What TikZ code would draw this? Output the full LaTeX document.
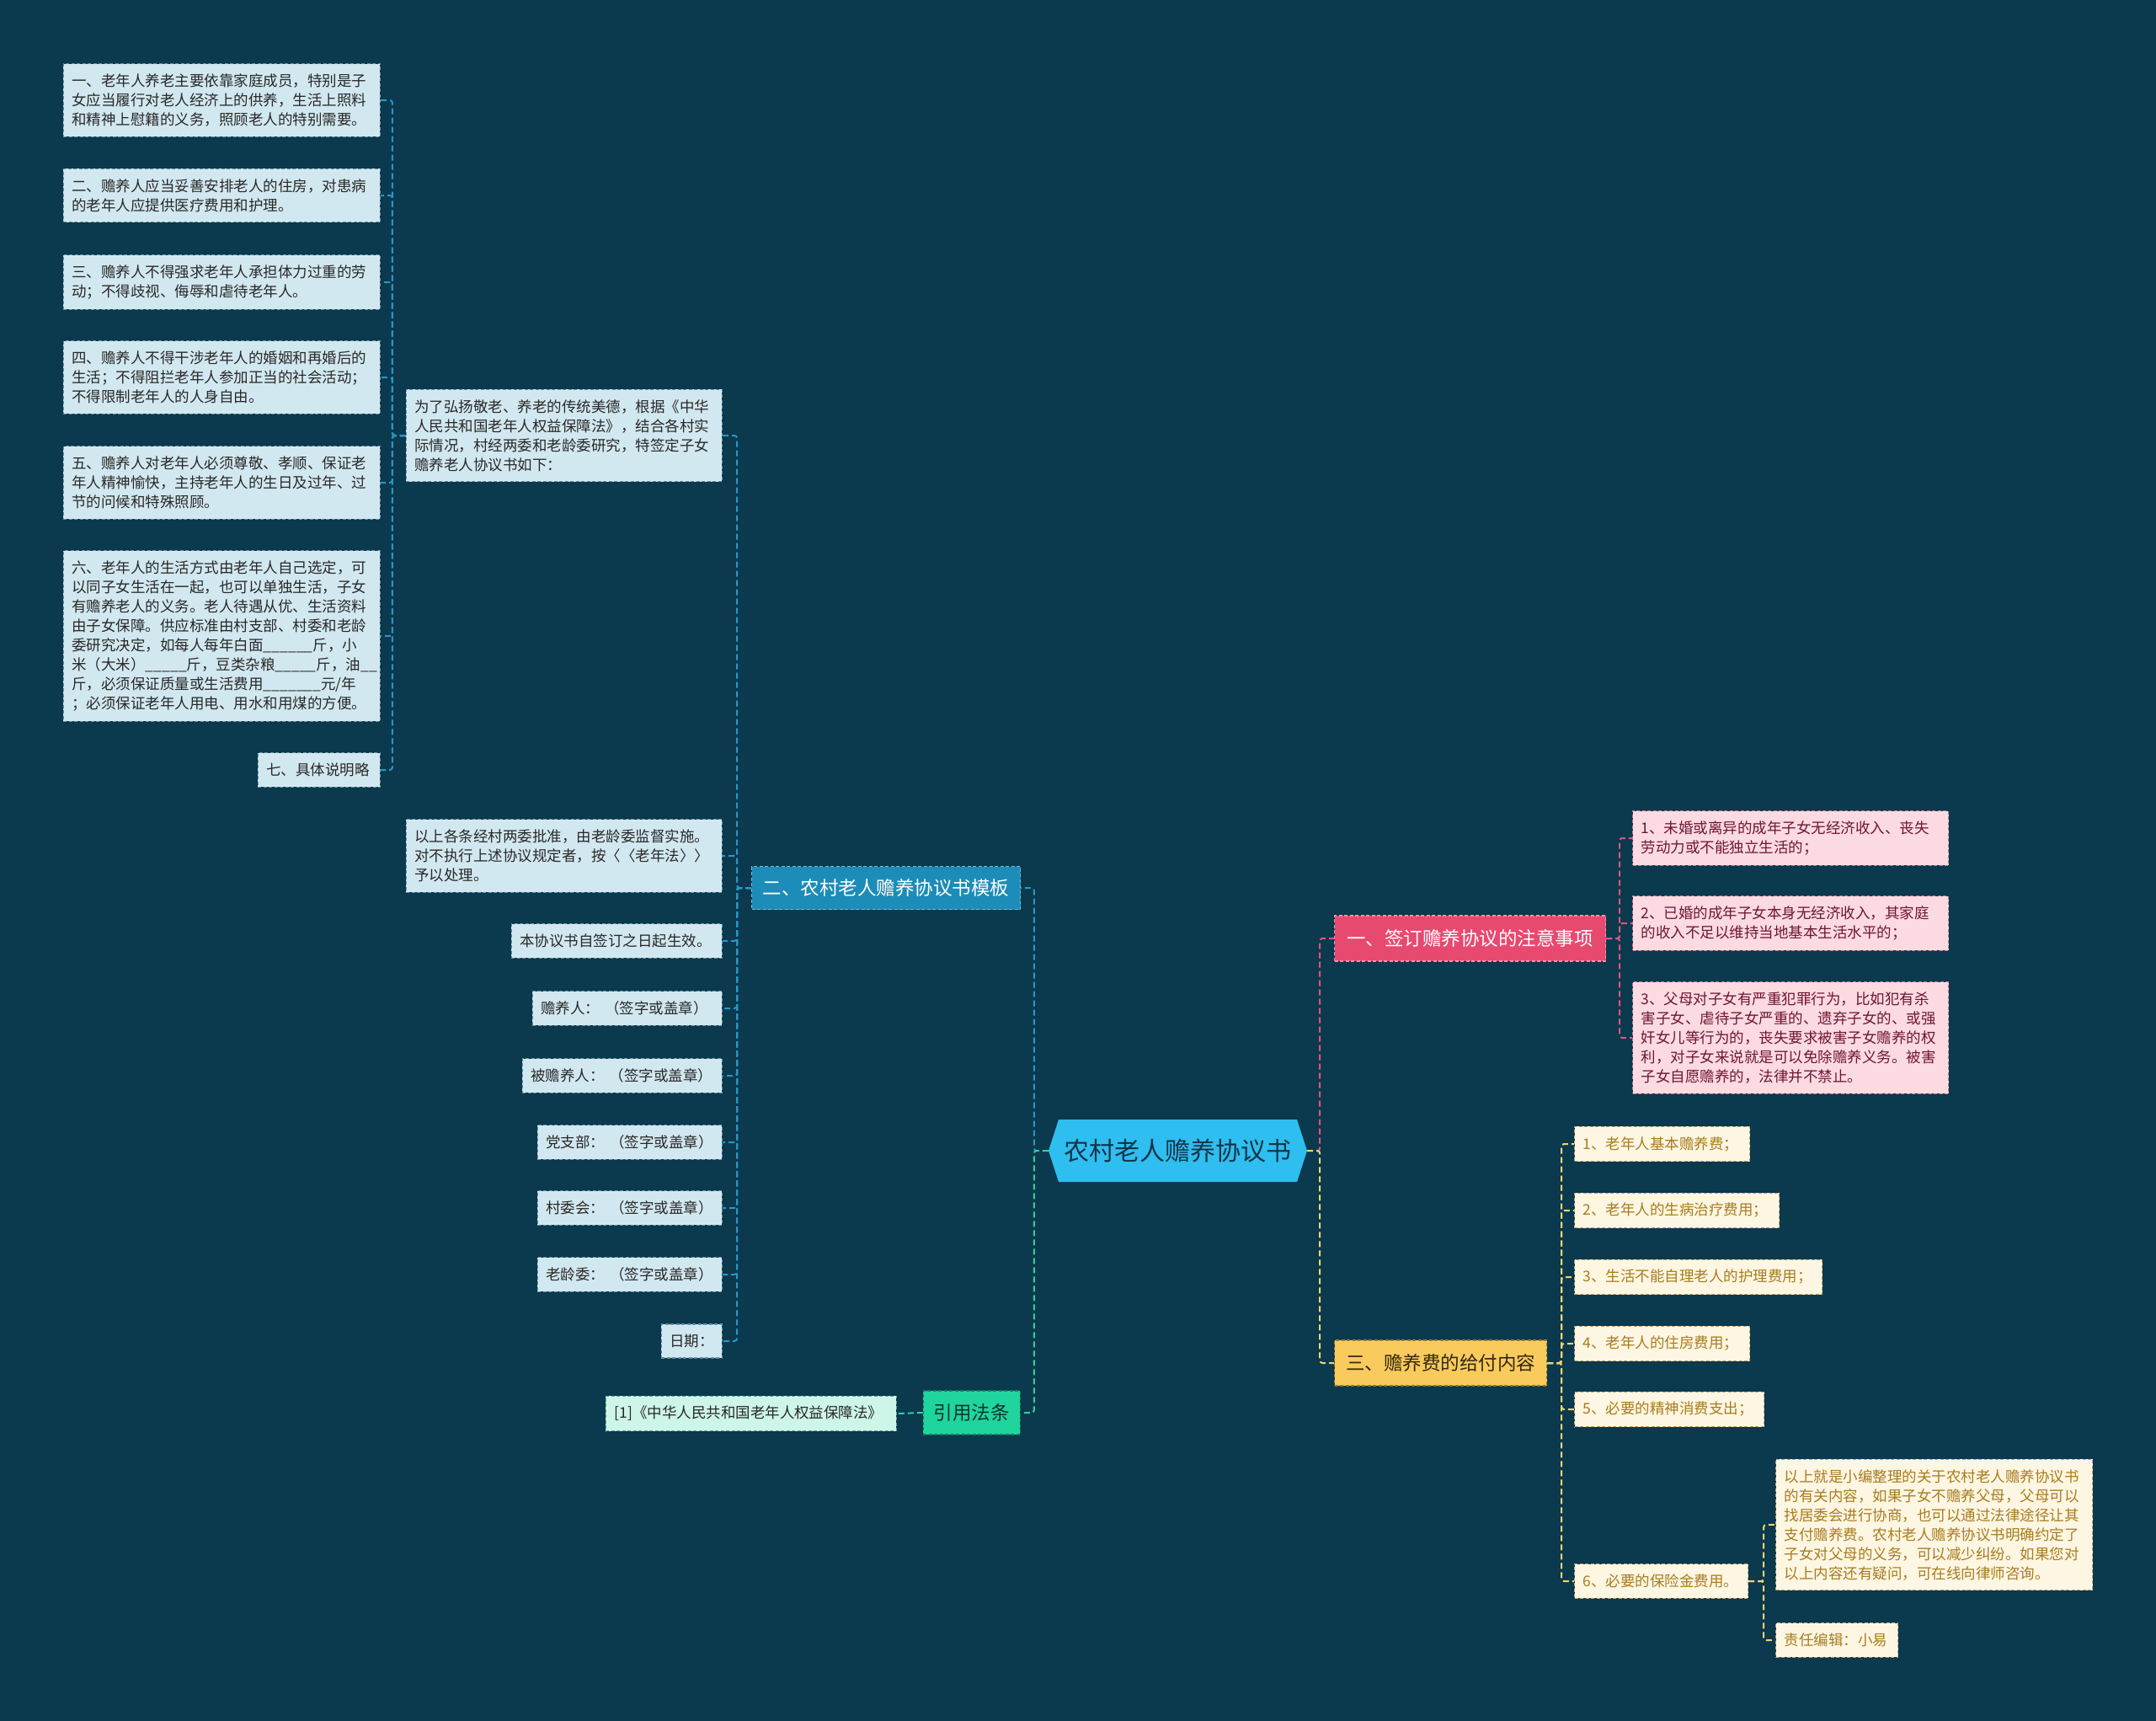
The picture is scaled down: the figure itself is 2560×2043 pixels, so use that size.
\documentclass[tikz,border=0pt]{standalone}
\usepackage{fontspec}
\setmainfont{Noto Sans CJK SC}
\definecolor{bg}{RGB}{11,57,77}
\definecolor{bluen}{RGB}{28,140,185}
\definecolor{bluel}{RGB}{40,150,200}
\definecolor{bluebox}{RGB}{210,232,240}
\definecolor{blueedge}{RGB}{105,145,165}
\definecolor{rootc}{RGB}{46,190,240}
\definecolor{roottext}{RGB}{18,52,72}
\definecolor{pinkn}{RGB}{232,73,111}
\definecolor{pinkl}{RGB}{222,84,124}
\definecolor{pinkbox}{RGB}{252,218,226}
\definecolor{pinkedge}{RGB}{185,125,145}
\definecolor{pinktext}{RGB}{110,22,52}
\definecolor{yelln}{RGB}{249,202,92}
\definecolor{yelll}{RGB}{240,212,112}
\definecolor{yellbox}{RGB}{253,246,226}
\definecolor{yelledge}{RGB}{185,165,115}
\definecolor{yelltext}{RGB}{168,124,30}
\definecolor{greenn}{RGB}{32,212,158}
\definecolor{greenl}{RGB}{42,210,162}
\definecolor{greenbox}{RGB}{205,245,232}
\definecolor{greenedge}{RGB}{105,165,145}
\definecolor{darktext}{RGB}{40,40,40}
\begin{document}
\begin{tikzpicture}[x=1pt,y=-1pt,
  box/.style={inner xsep=10pt, inner ysep=12pt, align=left, font=\fontsize{17.5}{23}\selectfont, line width=1.1pt, dash pattern=on 4pt off 2.5pt},
  bbox/.style={box, fill=bluebox, draw=blueedge, text=darktext},
  pbox/.style={box, fill=pinkbox, draw=pinkedge, text=pinktext},
  ybox/.style={box, fill=yellbox, draw=yelledge, text=yelltext},
  gbox/.style={box, fill=greenbox, draw=greenedge, text=darktext},
  branch/.style={inner xsep=0pt, inner ysep=0pt, font=\fontsize{22.5}{26}\selectfont, line width=1.1pt, dash pattern=on 4pt off 2.5pt},
  conn/.style={line width=2pt, dash pattern=on 7pt off 4pt, rounded corners=3pt},
]
\fill[bg] (0,0) rectangle (2560,2043);
\useasboundingbox (0,0) rectangle (2560,2043);

% root
\fill[rootc] (1257,1329) -- (1540,1329) -- (1552,1366) -- (1540,1403) -- (1257,1403) -- (1245,1366) -- cycle;
\node[minimum width=307pt, minimum height=74pt, inner sep=0pt, font=\fontsize{30}{34}\selectfont, text=roottext] (root) at (1398.5,1366) {农村老人赡养协议书};

% branch nodes
\node[branch, fill=bluen, draw=bluen!60!white, text=white, minimum width=319pt, minimum height=51pt, anchor=west] (n2) at (892,1054) {二、农村老人赡养协议书模板};
\node[branch, fill=greenn, draw=greenn!60!black, text=greenn!25!black, minimum width=115pt, minimum height=52pt, anchor=east] (g0) at (1212,1677) {引用法条};
\node[branch, fill=pinkn, draw=pinkn!60!white, text=white, minimum width=322pt, minimum height=54pt, anchor=west] (n1) at (1584,1114) {一、签订赡养协议的注意事项};
\node[branch, fill=yelln, draw=yelln!60!black, text=yelln!20!black, minimum width=252pt, minimum height=54pt, anchor=west] (n3) at (1584,1618) {三、赡养费的给付内容};

% blue column 2
\node[bbox, text width=355pt, anchor=east] (b1) at (858,517) {为了弘扬敬老、养老的传统美德，根据《中华\\人民共和国老年人权益保障法》，结合各村实\\际情况，村经两委和老龄委研究，特签定子女\\赡养老人协议书如下：};
\node[bbox, text width=355pt, anchor=east] (b2) at (858,1016) {以上各条经村两委批准，由老龄委监督实施。\\对不执行上述协议规定者，按〈〈老年法〉〉\\予以处理。};
\node[bbox, text width=230pt, anchor=east] (b3) at (858,1117) {本协议书自签订之日起生效。};
\node[bbox, text width=205pt, anchor=east] (b4) at (858,1197) {赡养人：\hspace{6pt}（签字或盖章）};
\node[bbox, text width=217pt, anchor=east] (b5) at (858,1277) {被赡养人：\hspace{6pt}（签字或盖章）};
\node[bbox, text width=199pt, anchor=east] (b6) at (858,1356) {党支部：\hspace{6pt}（签字或盖章）};
\node[bbox, text width=199pt, anchor=east] (b7) at (858,1434) {村委会：\hspace{6pt}（签字或盖章）};
\node[bbox, text width=199pt, anchor=east] (b8) at (858,1513) {老龄委：\hspace{6pt}（签字或盖章）};
\node[bbox, text width=52pt, anchor=east] (b9) at (858,1592) {日期：};

% blue column 1
\node[bbox, text width=356pt, anchor=east] (a1) at (452,119) {一、老年人养老主要依靠家庭成员，特别是子\\女应当履行对老人经济上的供养，生活上照料\\和精神上慰籍的义务，照顾老人的特别需要。};
\node[bbox, text width=356pt, anchor=east] (a2) at (452,232) {二、赡养人应当妥善安排老人的住房，对患病\\的老年人应提供医疗费用和护理。};
\node[bbox, text width=356pt, anchor=east] (a3) at (452,335) {三、赡养人不得强求老年人承担体力过重的劳\\动；不得歧视、侮辱和虐待老年人。};
\node[bbox, text width=356pt, anchor=east] (a4) at (452,448) {四、赡养人不得干涉老年人的婚姻和再婚后的\\生活；不得阻拦老年人参加正当的社会活动；\\不得限制老年人的人身自由。};
\node[bbox, text width=356pt, anchor=east] (a5) at (452,573) {五、赡养人对老年人必须尊敬、孝顺、保证老\\年人精神愉快，主持老年人的生日及过年、过\\节的问候和特殊照顾。};
\node[bbox, text width=356pt, anchor=east] (a6) at (452,755) {六、老年人的生活方式由老年人自己选定，可\\以同子女生活在一起，也可以单独生活，子女\\有赡养老人的义务。老人待遇从优、生活资料\\由子女保障。供应标准由村支部、村委和老龄\\委研究决定，如每人每年白面\_\_\_\_\_\_斤，小\\米（大米）\_\_\_\_\_斤，豆类杂粮\_\_\_\_\_斤，油\_\_\\斤，必须保证质量或生活费用\_\_\_\_\_\_\_元/年\\；必须保证老年人用电、用水和用煤的方便。};
\node[bbox, text width=125pt, anchor=east] (a7) at (452,914) {七、具体说明略};

% green
\node[gbox, text width=325pt, anchor=east] (g1) at (1065,1678) {[1]《中华人民共和国老年人权益保障法》};

% pink
\node[pbox, text width=355pt, anchor=west] (p1) at (1938,995) {1、未婚或离异的成年子女无经济收入、丧失\\劳动力或不能独立生活的；};
\node[pbox, text width=355pt, anchor=west] (p2) at (1938,1096) {2、已婚的成年子女本身无经济收入，其家庭\\的收入不足以维持当地基本生活水平的；};
\node[pbox, text width=355pt, anchor=west] (p3) at (1938,1232) {3、父母对子女有严重犯罪行为，比如犯有杀\\害子女、虐待子女严重的、遗弃子女的、或强\\奸女儿等行为的，丧失要求被害子女赡养的权\\利，对子女来说就是可以免除赡养义务。被害\\子女自愿赡养的，法律并不禁止。};

% yellow
\node[ybox, text width=188pt, anchor=west] (y1) at (1869,1358) {1、老年人基本赡养费；};
\node[ybox, text width=223pt, anchor=west] (y2) at (1869,1437) {2、老年人的生病治疗费用；};
\node[ybox, text width=274pt, anchor=west] (y3) at (1869,1516) {3、生活不能自理老人的护理费用；};
\node[ybox, text width=188pt, anchor=west] (y4) at (1869,1595) {4、老年人的住房费用；};
\node[ybox, text width=205pt, anchor=west] (y5) at (1869,1673) {5、必要的精神消费支出；};
\node[ybox, text width=186pt, anchor=west] (y6) at (1869,1877) {6、必要的保险金费用。};
\node[ybox, text width=356pt, anchor=west] (z1) at (2108,1810) {以上就是小编整理的关于农村老人赡养协议书\\的有关内容，如果子女不赡养父母，父母可以\\找居委会进行协商，也可以通过法律途径让其\\支付赡养费。农村老人赡养协议书明确约定了\\子女对父母的义务，可以减少纠纷。如果您对\\以上内容还有疑问，可在线向律师咨询。};
\node[ybox, text width=125pt, anchor=west] (z2) at (2108,1947) {责任编辑：小易};

% connectors
\draw[conn, bluel] (root.west) -- ++(-17,0) |- (n2.east);
\draw[conn, greenl] (root.west) -- ++(-17,0) |- (g0.east);
\draw[conn, greenl] (g0.west) -- (g1.east);
\draw[conn, pinkl] (root.east) -- ++(15,0) |- (n1.west);
\draw[conn, yelll] (root.east) -- ++(15,0) |- (n3.west);
\foreach \c in {b1,b2,b3,b4,b5,b6,b7,b8,b9}
  \draw[conn, bluel] (n2.west) -- ++(-17,0) |- (\c.east);
\foreach \c in {a1,a2,a3,a4,a5,a6,a7}
  \draw[conn, bluel] (b1.west) -- ++(-16,0) |- (\c.east);
\foreach \c in {p1,p2,p3}
  \draw[conn, pinkl] (n1.east) -- ++(16,0) |- (\c.west);
\foreach \c in {y1,y2,y3,y4,y5,y6}
  \draw[conn, yelll] (n3.east) -- ++(17,0) |- (\c.west);
\foreach \c in {z1,z2}
  \draw[conn, yelll] (y6.east) -- ++(18,0) |- (\c.west);
\end{tikzpicture}
\end{document}
